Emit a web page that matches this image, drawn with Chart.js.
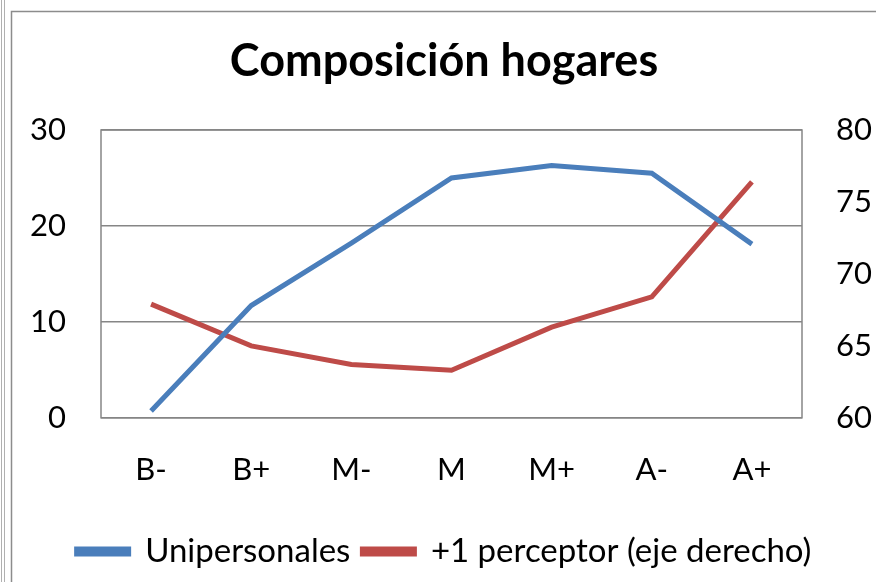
<!DOCTYPE html>
<html>
<head>
<meta charset="utf-8">
<script src="https://cdn.jsdelivr.net/npm/chart.js@4/dist/chart.umd.min.js"></script>
<style>
  html, body { margin: 0; padding: 0; background: #fff; }
  #wrap { width: 876px; height: 582px; }
</style>
</head>
<body>
<div id="wrap"><canvas id="area" width="876" height="582"></canvas></div>
<script>
var categories = ["B-", "B+", "M-", "M", "M+", "A-", "A+"];
var unipersonales = [0.7, 11.7, 18.2, 25.0, 26.3, 25.5, 18.1];
var perceptor = [67.9, 65.0, 63.7, 63.3, 66.3, 68.4, 76.4];
var leftTicks = [0, 10, 20, 30];
var rightTicks = [60, 65, 70, 75, 80];

var font = "Lato, 'Open Sans', sans-serif";

// frame lines around the chart like the spreadsheet export
var framePlugin = {
    id: 'frame',
    beforeDraw: function(chart) {
        var c = chart.ctx;
        c.save();
        c.fillStyle = '#fff';
        c.fillRect(0, 0, chart.width, chart.height);
        c.strokeStyle = '#b0b0b0';
        c.lineWidth = 1;
        c.beginPath();
        c.moveTo(1.5, 0); c.lineTo(1.5, chart.height);
        c.moveTo(4.5, 0); c.lineTo(4.5, chart.height);
        c.stroke();
        c.strokeStyle = '#8c8c8c';
        c.lineWidth = 1.5;
        c.strokeRect(11.5, 11.5, 900, 700);
        c.restore();
    },
    afterDraw: function(chart) {
        var a = chart.chartArea, c = chart.ctx;
        c.save();
        c.strokeStyle = '#868686';
        c.lineWidth = 1.5;
        c.strokeRect(a.left, a.top, a.right - a.left, a.bottom - a.top);
        c.restore();
    }
};

var ctx = document.getElementById('area').getContext('2d');
var myChart = new Chart(ctx, {
    type: 'line',
    data: {
        labels: categories,
        datasets: [{
            label: 'Unipersonales',
            data: unipersonales,
            borderColor: '#4A7EBB',
            backgroundColor: '#4A7EBB',
            borderWidth: 5,
            pointRadius: 0,
            yAxisID: 'y'
        }, {
            label: '+1 perceptor (eje derecho)',
            data: perceptor,
            borderColor: '#BE4B48',
            backgroundColor: '#BE4B48',
            borderWidth: 5,
            pointRadius: 0,
            yAxisID: 'y2'
        }]
    },
    options: {
        responsive: false,
        animation: false,
        layout: { padding: { top: 14, left: 12, right: 0, bottom: 4 } },
        plugins: {
            title: {
                display: true,
                text: 'Composición hogares',
                color: '#000',
                font: { family: font, size: 45, weight: 'bold' },
                padding: { top: 20, bottom: 42 }
            },
            legend: {
                position: 'bottom',
                labels: {
                    color: '#000',
                    font: { family: font, size: 33 },
                    boxWidth: 52,
                    boxHeight: 5,
                    padding: 12
                }
            },
            tooltip: { enabled: false }
        },
        scales: {
            x: {
                offset: true,
                grid: { display: false, drawTicks: false },
                border: { display: false },
                ticks: { color: '#000', font: { family: font, size: 31 }, padding: 34, maxRotation: 0 }
            },
            y: {
                position: 'left',
                min: 0, max: 30,
                afterBuildTicks: function(s) { s.ticks = leftTicks.map(function(v) { return { value: v }; }); },
                afterFit: function(s) { s.width = 89; },
                grid: { color: '#868686', lineWidth: 1.5, drawTicks: false },
                border: { display: false },
                ticks: { color: '#000', font: { family: font, size: 31 }, padding: 35 }
            },
            y2: {
                position: 'right',
                min: 60, max: 80,
                afterBuildTicks: function(s) { s.ticks = rightTicks.map(function(v) { return { value: v }; }); },
                afterFit: function(s) { s.width = 74; },
                grid: { display: false, drawTicks: false },
                border: { display: false },
                ticks: { color: '#000', font: { family: font, size: 31 }, padding: 34 }
            }
        }
    },
    plugins: [framePlugin]
});
</script>
</body>
</html>
